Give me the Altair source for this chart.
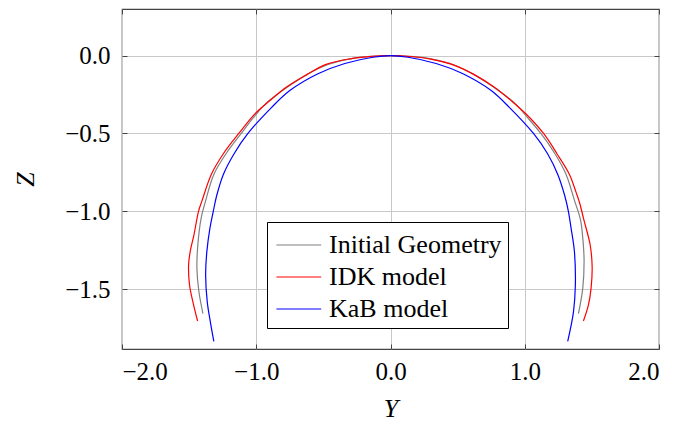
import altair as alt
import pandas as pd

series_names = ["Initial Geometry", "IDK model", "KaB model"]
series_colors = ["#808080", "#ff0000", "#0000ff"]

gray_y = [-1.397, -1.427, -1.442, -1.435, -1.41, -1.378, -1.316, -1.225, -1.112, -1.02, -0.92, -0.77,
          -0.62, -0.47, -0.30, -0.15, 0.0, 0.15, 0.30, 0.47, 0.62, 0.77, 0.92, 1.02, 1.12, 1.225,
          1.308, 1.372, 1.415, 1.435, 1.442, 1.432, 1.40]
gray_z = [-1.657, -1.517, -1.366, -1.215, -1.043, -0.935, -0.763, -0.63, -0.5, -0.397, -0.30, -0.203,
          -0.12, -0.058, -0.02, -0.005, 0.0, -0.005, -0.02, -0.058, -0.12, -0.203, -0.30, -0.397, -0.5, -0.63,
          -0.763, -0.935, -1.054, -1.2, -1.323, -1.495, -1.657]

red_y = [-1.437, -1.472, -1.497, -1.504, -1.492, -1.464, -1.43, -1.405, -1.335, -1.245, -1.13, -1.0,
         -0.90, -0.777, -0.63, -0.479, -0.30, -0.16, 0.0, 0.166, 0.30, 0.477, 0.63, 0.774, 0.90, 1.01,
         1.14, 1.24, 1.333, 1.383, 1.41, 1.44, 1.487, 1.502, 1.494, 1.474, 1.437]
red_z = [-1.705, -1.582, -1.474, -1.345, -1.259, -1.151, -1.0, -0.935, -0.763, -0.63, -0.5, -0.365,
         -0.29, -0.203, -0.125, -0.056, -0.02, -0.006, 0.0, -0.007, -0.022, -0.062, -0.125, -0.203, -0.29, -0.375,
         -0.5, -0.63, -0.763, -0.88, -0.95, -1.054, -1.215, -1.356, -1.495, -1.603, -1.705]

blue_y = [-1.316, -1.342, -1.365, -1.377, -1.368, -1.345, -1.32, -1.295, -1.245, -1.165, -1.062, -0.885,
          -0.75, -0.54, -0.34, -0.13, 0.0, 0.13, 0.34, 0.54, 0.75, 0.885, 1.065, 1.17, 1.246, 1.298,
          1.325, 1.345, 1.37, 1.377, 1.363, 1.32]
blue_z = [-1.836, -1.711, -1.582, -1.409, -1.259, -1.108, -1.0, -0.9, -0.763, -0.63, -0.5, -0.332,
          -0.224, -0.116, -0.05, -0.01, 0.0, -0.01, -0.05, -0.116, -0.224, -0.332, -0.5, -0.63, -0.763, -0.9,
          -1.0, -1.108, -1.259, -1.474, -1.646, -1.836]

x_ticks = [-2.0, -1.0, 0.0, 1.0, 2.0]
y_ticks = [0.0, -0.5, -1.0, -1.5]

rows = []
for name, ys, zs in zip(series_names, [gray_y, red_y, blue_y], [gray_z, red_z, blue_z]):
    for i, (a, b) in enumerate(zip(ys, zs)):
        rows.append({"series": name, "Y": a, "Z": b, "idx": i})
df = pd.DataFrame(rows)

W, H = 537, 340
FONT = "Liberation Serif"
xscale = alt.Scale(domain=[-2.0, 2.0], nice=False, zero=False)
yscale = alt.Scale(domain=[-1.885, 0.3], nice=False, zero=False)

main = alt.Chart(df).mark_line(strokeWidth=1.2, clip=True, interpolate="catmull-rom").encode(
    x=alt.X("Y:Q", scale=xscale,
            axis=alt.Axis(values=x_ticks, format=".1f", grid=True, ticks=False, domain=False,
                          labelFont=FONT, labelFontSize=25, labelColor="black", labelPadding=10,
                          title="Y", titleFont=FONT, titleFontStyle="italic", titleFontWeight="normal",
                          titleFontSize=26, titleColor="black", titlePadding=11)),
    y=alt.Y("Z:Q", scale=yscale,
            axis=alt.Axis(values=y_ticks, format=".1f", grid=True, ticks=False, domain=False,
                          labelFont=FONT, labelFontSize=25, labelColor="black", labelPadding=12,
                          title="Z", titleFont=FONT, titleFontStyle="italic", titleFontWeight="normal",
                          titleFontSize=26, titleColor="black", titlePadding=26)),
    color=alt.Color("series:N", scale=alt.Scale(domain=series_names, range=series_colors),
                    sort=series_names,
                    legend=alt.Legend(title=None, orient="none", legendX=145, legendY=213,
                                      fillColor="white", strokeColor="black", padding=6,
                                      symbolType="M-0.85,0H1.95", symbolSize=1024, symbolStrokeWidth=1.2,
                                      labelFont=FONT, labelFontSize=26, labelColor="black",
                                      rowPadding=2, labelOffset=22, labelLimit=400)),
    order="idx:Q",
)

tick_axis = dict(labels=False, grid=False, domain=False, ticks=True, tickSize=5,
                 tickColor="#444444", tickWidth=1, title=None)

ticksA = alt.Chart(df).mark_line(opacity=0).encode(
    x=alt.X("Y:Q", scale=xscale, axis=alt.Axis(orient="top", offset=-H, values=x_ticks, **tick_axis)),
    y=alt.Y("Z:Q", scale=yscale, axis=alt.Axis(orient="right", offset=-W, values=y_ticks, **tick_axis)),
    detail="series:N",
    order="idx:Q",
)
ticksB = alt.Chart(df).mark_line(opacity=0).encode(
    x=alt.X("Y:Q", scale=xscale, axis=alt.Axis(orient="bottom", offset=-H, values=x_ticks, **tick_axis)),
    y=alt.Y("Z:Q", scale=yscale, axis=alt.Axis(orient="left", offset=-W, values=y_ticks, **tick_axis)),
    detail="series:N",
    order="idx:Q",
)

chart = alt.layer(main, ticksA, ticksB).resolve_axis(x="independent", y="independent").properties(
    width=W, height=H,
    autosize=alt.AutoSizeParams(type="none"),
    padding={"left": 114, "top": 1, "right": 10, "bottom": 75},
).configure_view(
    stroke="#444444", strokeWidth=1.2
).configure_axis(
    gridColor="#c8c8c8", gridWidth=1, gridOpacity=1
)

chart.save("out.html", embed_options={"renderer": "svg", "actions": False})
